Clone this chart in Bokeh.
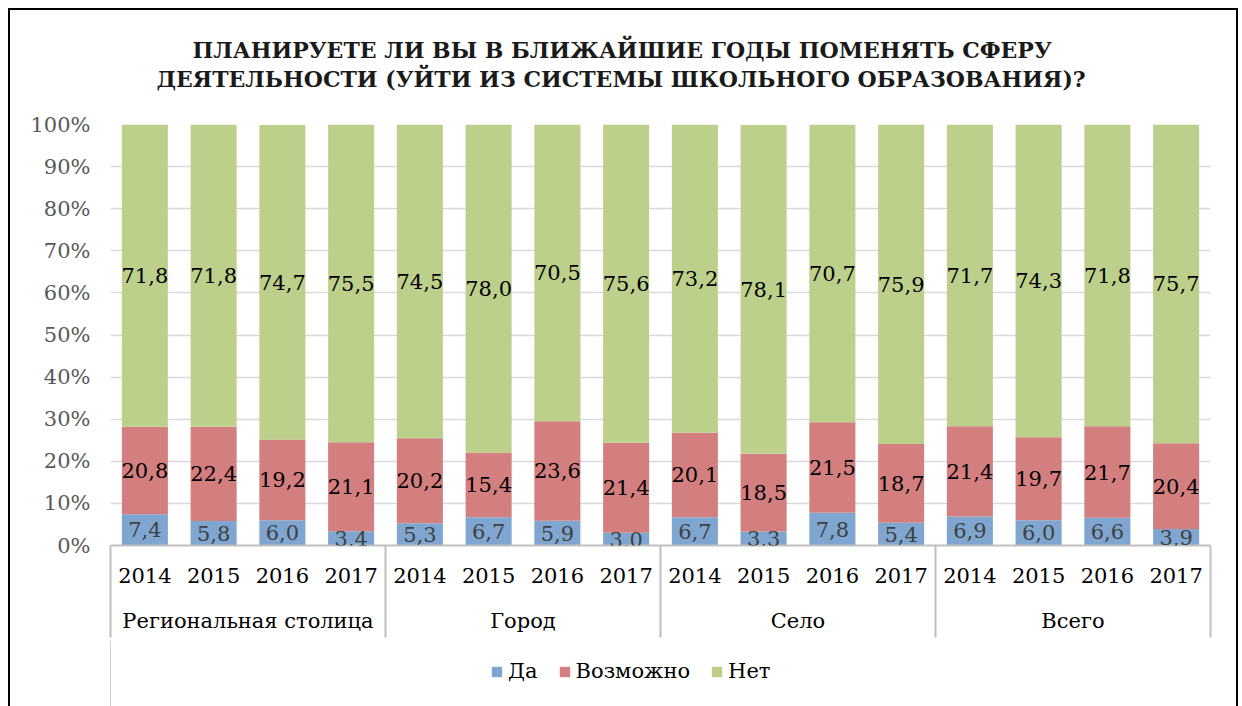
from bokeh.plotting import figure
from bokeh.layouts import column
from bokeh.models import (Range1d, FixedTicker, PrintfTickFormatter, ColumnDataSource,
                          Legend, LegendItem, Title, LabelSet, LinearAxis)
from bokeh.core.properties import value
from bokeh.embed import file_html
from bokeh.resources import INLINE

groups = ["Региональная столица", "Город", "Село", "Всего"]
years = ["2014", "2015", "2016", "2017"]
da = [7.4, 5.8, 6.0, 3.4, 5.3, 6.7, 5.9, 3.0, 6.7, 3.3, 7.8, 5.4, 6.9, 6.0, 6.6, 3.9]
vozm = [20.8, 22.4, 19.2, 21.1, 20.2, 15.4, 23.6, 21.4, 20.1, 18.5, 21.5, 18.7, 21.4, 19.7, 21.7, 20.4]
net = [71.8, 71.8, 74.7, 75.5, 74.5, 78.0, 70.5, 75.6, 73.2, 78.1, 70.7, 75.9, 71.7, 74.3, 71.8, 75.7]
series_names = ["Да", "Возможно", "Нет"]
y_ticks = [0, 10, 20, 30, 40, 50, 60, 70, 80, 90, 100]
title_lines = ["ПЛАНИРУЕТЕ ЛИ ВЫ В БЛИЖАЙШИЕ ГОДЫ ПОМЕНЯТЬ СФЕРУ",
               "ДЕЯТЕЛЬНОСТИ (УЙТИ ИЗ СИСТЕМЫ ШКОЛЬНОГО ОБРАЗОВАНИЯ)?"]

colors = ["#7FA6D0", "#D47F7F", "#BCD08C"]
FONT = "DejaVu Serif"

cats = [(g, y) for g in groups for y in years]
n_bars = len(cats)
n_groups = len(groups)
xpos = list(range(n_bars))

def fmt(v):
    return f"{v:.1f}".replace(".", ",")

src = ColumnDataSource(dict(
    x=xpos, da=da, vozm=vozm, net=net,
    y_da=[a / 2 for a in da],
    y_vo=[a + b / 2 for a, b in zip(da, vozm)],
    y_net=[a + b + c / 2 for a, b, c in zip(da, vozm, net)],
    t_da=[fmt(v) for v in da],
    t_vo=[fmt(v) for v in vozm],
    t_net=[fmt(v) for v in net],
))

p = figure(x_range=Range1d(-0.5, n_bars - 0.5), y_range=Range1d(0, 100), width=1242, height=640,
           output_backend="svg", toolbar_location=None, title=None, x_axis_type=None,
           min_border_left=110, min_border_right=32, min_border_top=124, min_border_bottom=95)
p.outline_line_color = None
p.background_fill_color = "white"
p.border_fill_color = None
p.extra_x_ranges = {"grp": Range1d(-0.5, n_groups - 0.5)}

rs = p.vbar_stack(["da", "vozm", "net"], x="x", width=0.67, source=src,
                  color=colors, line_color=None)

for ycol, tcol, col in [("y_da", "t_da", "#404040"), ("y_vo", "t_vo", "black"), ("y_net", "t_net", "black")]:
    p.add_layout(LabelSet(x="x", y=ycol, text=tcol, source=src, text_align="center",
                          text_baseline="middle", text_font=value(FONT), text_font_size="21px",
                          text_color=col))

# y axis
p.yaxis.ticker = FixedTicker(ticks=y_ticks)
p.yaxis.formatter = PrintfTickFormatter(format="%d%%")
p.yaxis.axis_line_color = None
p.yaxis.major_tick_line_color = None
p.yaxis.minor_tick_line_color = None
p.yaxis.major_label_text_font = FONT
p.yaxis.major_label_text_font_size = "21px"
p.yaxis.major_label_text_color = "#595959"
p.yaxis.major_label_standoff = 14
p.ygrid.ticker = FixedTicker(ticks=y_ticks)
p.ygrid.grid_line_color = "#d9d9d9"
p.ygrid.grid_line_width = 1.5
p.xgrid.grid_line_color = None

# x axis level 1: years
ax1 = LinearAxis(ticker=FixedTicker(ticks=xpos),
                 major_label_overrides={i: c[1] for i, c in zip(xpos, cats)},
                 axis_line_color="#bfbfbf", axis_line_width=2,
                 major_tick_line_color=None, minor_tick_line_color=None,
                 major_tick_out=0, major_tick_in=0, minor_tick_out=0, minor_tick_in=0,
                 major_label_standoff=22, major_label_text_font=FONT,
                 major_label_text_font_size="21px", major_label_text_color="black")
p.add_layout(ax1, "below")

# x axis level 2: groups, with separators as minor ticks at group edges
grp_pos = list(range(n_groups))
edges = [i - 0.5 for i in range(n_groups + 1)]
ax2 = LinearAxis(x_range_name="grp", ticker=FixedTicker(ticks=grp_pos, minor_ticks=edges),
                 major_label_overrides={i: g for i, g in zip(grp_pos, groups)},
                 axis_line_color=None, major_tick_line_color=None,
                 major_tick_out=0, major_tick_in=0,
                 minor_tick_line_color="#bfbfbf", minor_tick_line_width=2,
                 minor_tick_in=40, minor_tick_out=52,
                 major_label_standoff=-29, major_label_text_font=FONT,
                 major_label_text_font_size="21px", major_label_text_color="black")
p.add_layout(ax2, "below")

# title (two lines) above a spacer
p.add_layout(Title(text=" ", standoff=5, text_font=FONT, text_font_size="22px"), "above")
p.add_layout(Title(text=title_lines[1], align="left", text_font=FONT, text_font_size="22px",
                   text_font_style="bold", text_color="#1a1a1a", offset=46, standoff=0), "above")
p.add_layout(Title(text=title_lines[0], align="left", text_font=FONT, text_font_size="22px",
                   text_font_style="bold", text_color="#1a1a1a", offset=82, standoff=2), "above")

# legend strip below the chart
pl = figure(width=1242, height=66, output_backend="svg", toolbar_location=None,
            x_axis_type=None, y_axis_type=None, x_range=Range1d(0, 1), y_range=Range1d(0, 1),
            min_border_left=0, min_border_right=0, min_border_top=0, min_border_bottom=0)
pl.outline_line_color = None
pl.background_fill_color = "white"
pl.border_fill_color = None
pl.xgrid.grid_line_color = None
pl.ygrid.grid_line_color = None
# proxy renderers (placed outside the visible range) used only for legend swatches
leg_rs = [pl.vbar(x=[-10], top=[1], width=0.5, color=c, line_color=None) for c in colors]
items = [LegendItem(label=n, renderers=[r]) for n, r in zip(series_names, leg_rs)]
leg = Legend(items=items, orientation="horizontal", location=(380, 23),
             label_text_font=FONT, label_text_font_size="21px", label_text_color="black",
             glyph_width=13, glyph_height=13, label_standoff=5, spacing=20,
             padding=0, margin=0, border_line_color=None, background_fill_alpha=0)
pl.add_layout(leg, "center")

layout = column(p, pl, spacing=0)
layout.styles = {
    "background": ("linear-gradient(#000, #000) 8px 8px / 2px 100% no-repeat, "
                   "linear-gradient(#000, #000) 8px 8px / 1230px 2px no-repeat, "
                   "linear-gradient(#000, #000) 1236px 8px / 2px 100% no-repeat, white"),
}

open("out.html", "w").write(file_html(layout, INLINE))
